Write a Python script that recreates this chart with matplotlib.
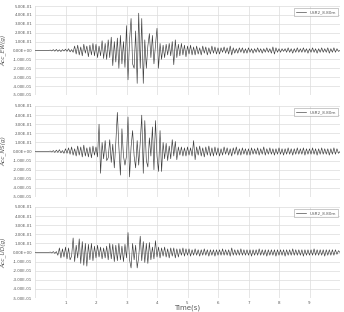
import numpy as np
import matplotlib
matplotlib.use("Agg")
import matplotlib.pyplot as plt
from matplotlib.ticker import FuncFormatter, MultipleLocator

dt = 0.05  # sampling interval (s)
legend_label = "USR2_8.80m"
y_labels = ["Acc_EW(g)", "Acc_NS(g)", "Acc_UD(g)"]
x_tick_values = [1, 2, 3, 4, 5, 6, 7, 8, 9]

acc_ew = [
    0, 0, 0, 0, 0, 0, 0, 0, 0, 0, 0.005, -0.005, 0.01, -0.008, 0.012, -0.01, 0.008, -0.012, 0.01, -0.006,
    0.015, -0.01, 0.02, -0.015, 0.01, -0.02, 0.05, -0.04, 0.06, -0.05, 0.04, -0.06, 0.07, -0.03, 0.05, -0.07, 0.06, -0.05, 0.08, -0.06,
    0.07, -0.08, 0.05, -0.06, 0.11, -0.09, 0.08, -0.1, 0.12, -0.08, 0.15, -0.17, 0.1, -0.13, 0.14, -0.2, 0.17, -0.15, 0.1, -0.19,
    0.28, -0.33, 0.12, 0.36, -0.15, -0.2, 0.22, -0.37, 0.42, -0.2, 0.36, -0.37, 0.12, -0.2, 0.05, 0.19, -0.08, 0.17, -0.15, 0.06,
    0.25, -0.2, 0.08, -0.1, 0.06, -0.08, 0.07, -0.05, 0.08, -0.06, 0.1, -0.16, 0.12, -0.08, 0.07, -0.06, 0.08, -0.05, 0.06, -0.07,
    0.05, -0.04, 0.06, -0.05, 0.04, -0.05, 0.05, -0.04, 0.03, -0.05, 0.05, -0.03, 0.04, -0.05, 0.03, -0.04, 0.05, -0.03, 0.04, -0.04,
    0.03, -0.04, 0.03, -0.02, 0.04, -0.03, 0.03, -0.04, 0.05, -0.05, 0.03, -0.03, 0.02, -0.03, 0.03, -0.02, 0.03, -0.03, 0.02, -0.03,
    0.03, -0.02, 0.02, -0.03, 0.02, -0.02, 0.03, -0.02, 0.02, -0.03, 0.02, -0.02, 0.03, -0.02, 0.02, -0.03, 0.04, -0.04, 0.03, -0.02,
    0.02, -0.02, 0.02, -0.01, 0.02, -0.02, 0.03, -0.02, 0.02, -0.03, 0.02, -0.02, 0.03, -0.02, 0.02, -0.02, 0.03, -0.02, 0.02, -0.03,
    0.02, -0.02, 0.03, -0.02, 0.02, -0.03, 0.02, -0.02, 0.03, -0.02, 0.02, -0.02, 0.03, -0.03, 0.02, -0.02, 0.03, -0.02, 0.02, -0.01,
    0,
]

acc_ns = [
    0, 0, 0, 0, 0, 0, 0, 0, 0, 0, 0.005, -0.005, 0.01, -0.01, 0.015, -0.01, 0.02, -0.015, 0.01, -0.02,
    0.03, -0.02, 0.04, -0.03, 0.05, -0.04, 0.03, -0.05, 0.06, -0.04, 0.05, -0.06, 0.07, -0.05, 0.04, -0.06, 0.05, -0.07, 0.06, -0.04,
    0.05, -0.06, 0.3, -0.24, 0.1, -0.08, 0.12, -0.1, -0.07, 0.13, -0.12, 0.08, -0.18, 0.1, 0.43, 0.05, -0.26, 0.25, -0.05, -0.15,
    -0.05, 0.38, -0.28, 0.05, 0.23, -0.05, -0.18, 0.12, -0.15, 0.1, 0.4, -0.24, 0.34, -0.1, -0.17, 0.15, -0.05, 0.27, -0.2, 0.34,
    -0.05, -0.22, 0.23, -0.22, 0.1, -0.08, 0.09, -0.1, 0.06, -0.08, 0.13, -0.05, 0.11, -0.09, 0.05, -0.04, 0.05, -0.05, 0.04, -0.05,
    0.05, -0.04, 0.04, -0.05, 0.12, -0.09, 0.05, -0.04, 0.06, -0.05, 0.04, -0.06, 0.05, -0.04, 0.06, -0.05, 0.04, -0.05, 0.05, -0.04,
    0.04, -0.05, 0.03, -0.04, 0.05, -0.03, 0.04, -0.04, 0.03, -0.05, 0.04, -0.03, 0.05, -0.04, 0.03, -0.04, 0.04, -0.03, 0.03, -0.04,
    0.03, -0.04, 0.04, -0.03, 0.03, -0.03, 0.04, -0.04, 0.03, -0.03, 0.05, -0.04, 0.03, -0.03, 0.04, -0.03, 0.03, -0.04, 0.03, -0.03,
    0.04, -0.03, 0.03, -0.04, 0.03, -0.03, 0.04, -0.03, 0.03, -0.04, 0.03, -0.03, 0.04, -0.03, 0.03, -0.03, 0.04, -0.04, 0.03, -0.03,
    0.03, -0.03, 0.04, -0.03, 0.03, -0.04, 0.03, -0.03, 0.04, -0.03, 0.03, -0.03, 0.03, -0.04, 0.03, -0.03, 0.04, -0.03, 0.03, -0.02,
    0,
]

acc_ud = [
    0, 0, 0, 0, 0, 0, 0, 0, 0, 0, 0.005, -0.005, 0.01, -0.01, 0.01, -0.03, 0.05, -0.06, 0.04, -0.05,
    0.06, -0.07, 0.05, -0.08, -0.04, 0.16, -0.1, 0.08, -0.06, 0.15, -0.12, 0.12, -0.14, 0.1, -0.15, 0.09, -0.08, 0.1, -0.09, 0.07,
    -0.06, 0.08, -0.05, 0.06, -0.07, 0.05, -0.06, 0.07, -0.08, 0.1, -0.07, 0.09, -0.1, 0.08, -0.09, 0.1, -0.08, 0.07, -0.1, 0.09,
    -0.06, 0.22, -0.08, -0.17, 0.1, -0.08, 0.08, -0.17, -0.05, 0.18, -0.09, 0.12, -0.11, 0.1, -0.12, 0.11, -0.08, 0.06, -0.07, 0.13,
    -0.05, 0.06, -0.06, 0.05, -0.04, 0.06, -0.05, 0.04, -0.06, 0.05, -0.04, 0.05, -0.06, 0.04, -0.05, 0.04, -0.03, 0.05, -0.04, 0.04,
    -0.03, 0.04, -0.04, 0.03, -0.03, 0.04, -0.03, 0.03, -0.04, 0.03, -0.03, 0.04, -0.03, 0.03, -0.04, 0.03, -0.03, 0.03, -0.04, 0.03,
    -0.03, 0.03, -0.03, 0.04, -0.03, 0.03, -0.03, 0.03, -0.04, 0.05, -0.03, 0.03, -0.03, 0.03, -0.03, 0.04, -0.03, 0.03, -0.03, 0.03,
    -0.03, 0.03, -0.04, 0.03, -0.03, 0.03, -0.03, 0.04, -0.03, 0.03, -0.03, 0.03, -0.04, 0.03, -0.03, 0.03, -0.03, 0.03, -0.04, 0.03,
    -0.03, 0.03, -0.03, 0.03, -0.04, 0.03, -0.03, 0.03, -0.03, 0.04, -0.03, 0.03, -0.03, 0.03, -0.03, 0.03, -0.04, 0.03, -0.03, 0.03,
    -0.03, 0.03, -0.03, 0.04, -0.03, 0.03, -0.03, 0.03, -0.03, 0.03, -0.04, 0.03, -0.03, 0.03, -0.03, 0.03, -0.03, 0.03, -0.02, 0.02,
    0,
]

series = [acc_ew, acc_ns, acc_ud]

W, H = 344, 312
fig = plt.figure(figsize=(W / 100, H / 100), dpi=100)
fig.patch.set_facecolor("white")

left, right = 35, 340
panel_px = [(6, 95), (106, 197), (207, 298)]

grid_c = "#dcdcdc"
text_c = "#595959"
line_c = "#3a3a3a"


def sci_fmt(v, pos):
    v = round(v, 6)
    if v == 0:
        return "0.00E+00"
    return f"{v:.2E}"


for i, (vals, (top, bot)) in enumerate(zip(series, panel_px)):
    ax = fig.add_axes([left / W, 1 - bot / H, (right - left) / W, (bot - top) / H])
    t = np.arange(len(vals)) * dt
    ax.plot(t, vals, color=line_c, lw=0.45, label=legend_label)
    ax.set_xlim(0, 10)
    ax.set_ylim(-0.5, 0.5)
    ax.yaxis.set_major_locator(MultipleLocator(0.1))
    ax.yaxis.set_major_formatter(FuncFormatter(sci_fmt))
    ax.set_xticks(range(0, 11))
    if i == 2:
        ax.set_xticklabels([str(v) if v in x_tick_values else "" for v in range(0, 11)])
        ax.set_xlabel("Time(s)", fontsize=5, color=text_c, labelpad=0)
    else:
        ax.set_xticklabels([])
    ax.grid(True, color=grid_c, lw=0.5)
    ax.set_axisbelow(True)
    for s in ax.spines.values():
        s.set_visible(False)
    ax.tick_params(axis="both", length=0, labelsize=2.9, colors=text_c, pad=2)
    ax.set_ylabel(y_labels[i], fontsize=4.2, color=text_c, style="italic", labelpad=2)
    ax.yaxis.set_label_coords(-0.095, 0.5)
    leg = ax.legend(loc="upper right", fontsize=3.0, frameon=True, fancybox=False,
                    handlelength=2.5, borderpad=0.5, bbox_to_anchor=(1.0, 1.0))
    leg.get_frame().set_edgecolor("#a0a0a0")
    leg.get_frame().set_linewidth(0.5)
    for txt in leg.get_texts():
        txt.set_color(text_c)

fig.savefig("out.png", dpi=100, facecolor="white")
